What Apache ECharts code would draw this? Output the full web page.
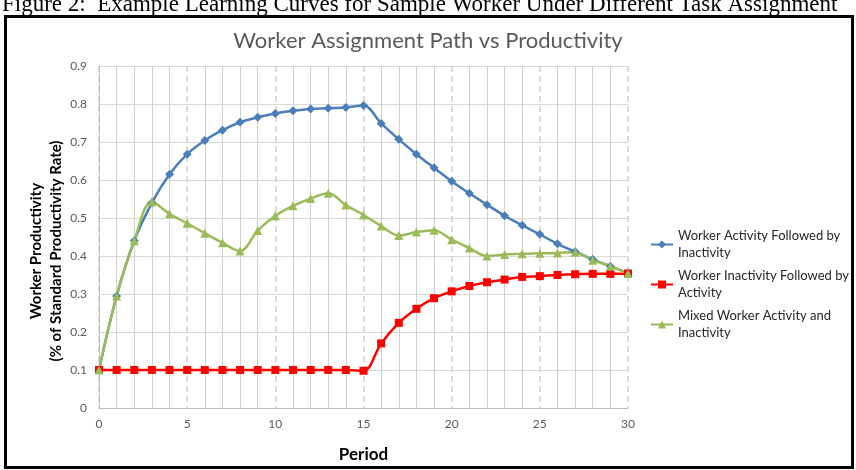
<!DOCTYPE html>
<html>
<head>
<meta charset="utf-8">
<script src="https://cdn.jsdelivr.net/npm/echarts@6/dist/echarts.min.js"></script>
<style>
  html, body { margin: 0; padding: 0; background: #fff; }
  #chart { width: 856px; height: 470px; }
</style>
</head>
<body>
<div id="chart"></div>
<script>
const periods = [0, 1, 2, 3, 4, 5, 6, 7, 8, 9, 10, 11, 12, 13, 14, 15, 16, 17, 18, 19, 20, 21, 22, 23, 24, 25, 26, 27, 28, 29, 30];
const activityThenInactivity = [0.1, 0.295, 0.44, 0.54, 0.615, 0.668, 0.704, 0.731, 0.752, 0.765, 0.775, 0.782, 0.787, 0.789, 0.791, 0.796, 0.749, 0.707, 0.668, 0.632, 0.597, 0.565, 0.535, 0.506, 0.481, 0.457, 0.432, 0.411, 0.391, 0.373, 0.355];
const inactivityThenActivity = [0.1, 0.1, 0.1, 0.1, 0.1, 0.1, 0.1, 0.1, 0.1, 0.1, 0.1, 0.1, 0.1, 0.1, 0.1, 0.098, 0.17, 0.224, 0.261, 0.289, 0.307, 0.321, 0.331, 0.338, 0.345, 0.347, 0.35, 0.352, 0.353, 0.353, 0.354];
const mixed = [0.1, 0.295, 0.44, 0.543, 0.511, 0.486, 0.46, 0.435, 0.413, 0.467, 0.506, 0.532, 0.551, 0.565, 0.534, 0.508, 0.479, 0.454, 0.463, 0.468, 0.443, 0.421, 0.4, 0.404, 0.406, 0.407, 0.408, 0.41, 0.389, 0.373, 0.354];
const seriesNames = [
  "Worker Activity Followed by\nInactivity",
  "Worker Inactivity Followed by\nActivity",
  "Mixed Worker Activity and\nInactivity",
];

const pairs = (vals) => periods.map((p, i) => [p, vals[i]]);

let myChart = echarts.init(document.getElementById("chart"));
myChart.setOption({
  backgroundColor: "#fff",
  animation: false,
  title: {
    text: "Worker Assignment Path vs Productivity",
    left: "center",
    top: 25,
    textStyle: {
      fontFamily: "Lato",
      fontWeight: "normal",
      fontSize: 22,
      color: "#595959",
    },
  },
  graphic: [
    {
      type: "text",
      left: 2,
      top: -7,
      style: {
        text: "Figure 2:  Example Learning Curves for Sample Worker Under Different Task Assignment",
        font: "23px 'Liberation Serif'",
        fill: "#000",
      },
    },
    {
      type: "rect",
      shape: { x: 5.5, y: 16.5, width: 847, height: 451 },
      style: { fill: "none", stroke: "#000", lineWidth: 3 },
      z: 10,
    },
    {
      type: "text",
      x: 46,
      y: 251,
      rotation: Math.PI / 2,
      style: {
        text: "Worker Productivity\n(% of Standard Productivity Rate)",
        font: "bold 15px Lato",
        lineHeight: 20,
        fill: "#000",
        align: "center",
        verticalAlign: "middle",
      },
    },
  ],
  grid: {
    left: 99,
    right: 228,
    top: 66,
    bottom: 62,
  },
  legend: {
    orient: "vertical",
    left: 645,
    top: 214,
    itemWidth: 22,
    itemHeight: 10,
    itemGap: -11,
    data: seriesNames,
    textStyle: {
      fontFamily: "Lato",
      fontSize: 13,
      lineHeight: 17,
      color: "#262626",
      padding: [17, 0, 0, 0],
    },
  },
  xAxis: [
    {
      type: "value",
      min: 0,
      max: 30,
      interval: 1,
      name: "Period",
      nameLocation: "middle",
      nameGap: 38,
      nameTextStyle: {
        fontFamily: "Lato",
        fontWeight: "bold",
        fontSize: 17,
        color: "#000",
      },
      axisLabel: {
        margin: 10,
        fontFamily: "Lato",
        fontSize: 12,
        color: "#595959",
        formatter: (v) => (v % 5 === 0 ? String(v) : ""),
      },
      axisLine: { show: true, lineStyle: { color: "#bfbfbf", width: 1 } },
      axisTick: { show: false },
      splitLine: {
        show: true,
        lineStyle: {
          // multiples of 5 are drawn dashed by the second axis
          color: ["rgba(0,0,0,0)", "#d0d0d0", "#d0d0d0", "#d0d0d0", "#d0d0d0"],
          width: 1,
        },
      },
    },
    {
      type: "value",
      position: "bottom",
      min: 0,
      max: 30,
      interval: 5,
      axisLabel: { show: false },
      axisLine: { show: false },
      axisTick: { show: false },
      splitLine: {
        show: true,
        lineStyle: { color: "#cfcfcf", width: 1.5, type: [6, 4] },
      },
    },
  ],
  yAxis: {
    type: "value",
    min: 0,
    max: 0.9,
    interval: 0.1,
    axisLabel: {
      margin: 12,
      fontFamily: "Lato",
      fontSize: 12,
      color: "#595959",
    },
    axisLine: { show: true, lineStyle: { color: "#bfbfbf", width: 1 } },
    axisTick: { show: false },
    splitLine: { show: true, lineStyle: { color: "#d9d9d9", width: 1 } },
  },
  series: [
    {
      name: seriesNames[0],
      type: "line",
      smooth: 0.35,
      symbol: "diamond",
      symbolSize: 9,
      color: "#4a7ebb",
      lineStyle: { width: 2.5 },
      data: pairs(activityThenInactivity),
    },
    {
      name: seriesNames[1],
      type: "line",
      smooth: 0.35,
      symbol: "rect",
      symbolSize: 8,
      color: "#ff0000",
      lineStyle: { width: 2.5 },
      data: pairs(inactivityThenActivity),
    },
    {
      name: seriesNames[2],
      type: "line",
      smooth: 0.35,
      symbol: "triangle",
      symbolSize: 9,
      color: "#9bbb59",
      lineStyle: { width: 2.5 },
      data: pairs(mixed),
    },
  ],
});
</script>
</body>
</html>
